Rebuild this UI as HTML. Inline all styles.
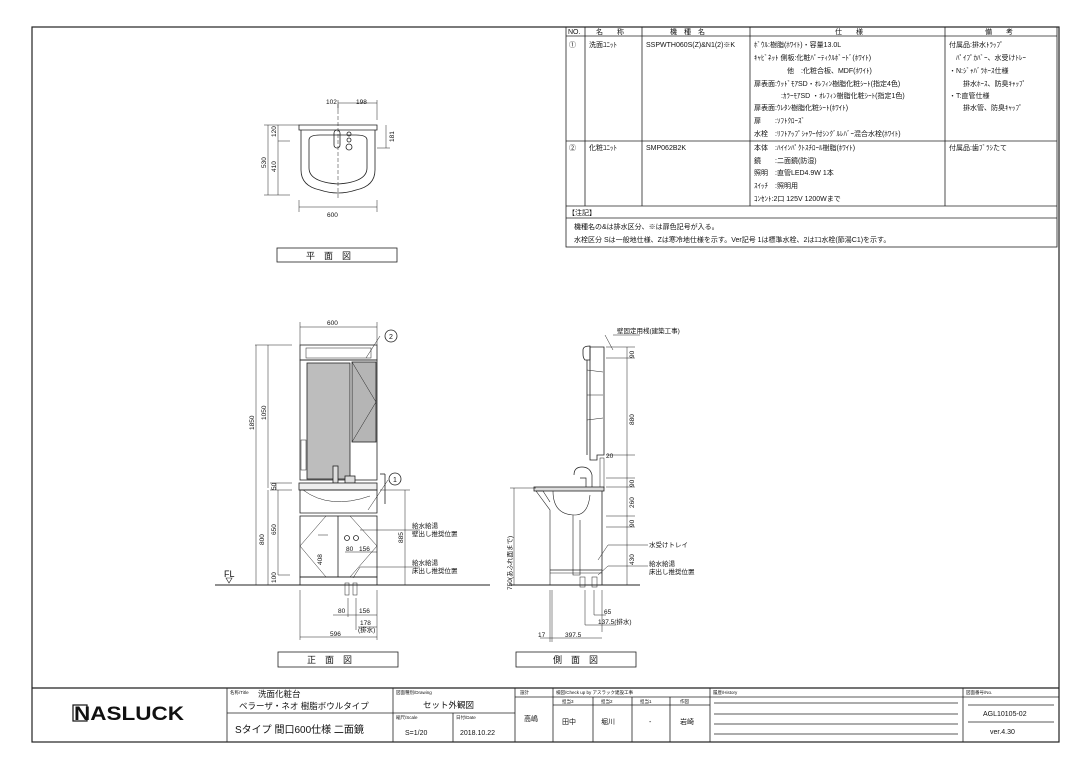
<!DOCTYPE html>
<html><head><meta charset="utf-8"><style>
html,body{margin:0;padding:0;background:#fff;}
svg{display:block;}
text{font-family:"Liberation Sans","Noto Sans CJK JP",sans-serif;fill:#111;}
.s{font-size:7px;}
.t{font-size:6.5px;}
.m{font-size:9px;}
.d{font-size:6.5px;}
</style></head><body>
<svg width="1080" height="764" viewBox="0 0 1080 764" xmlns="http://www.w3.org/2000/svg">
<g fill="none" stroke="#222" stroke-width="0.8">
<rect x="32" y="27" width="1027" height="715" stroke-width="1.2"/>
<rect x="566" y="27" width="491" height="220"/>
<line x1="566" y1="36" x2="1057" y2="36"/>
<line x1="566" y1="141" x2="1057" y2="141"/>
<line x1="566" y1="206" x2="1057" y2="206"/>
<line x1="566" y1="218" x2="1057" y2="218"/>
<line x1="585" y1="27" x2="585" y2="206"/>
<line x1="642" y1="27" x2="642" y2="206"/>
<line x1="750" y1="27" x2="750" y2="206"/>
<line x1="945" y1="27" x2="945" y2="206"/>
<line x1="32" y1="688" x2="1059" y2="688" stroke-width="1.2"/>
<line x1="227" y1="688" x2="227" y2="742"/>
<line x1="393" y1="688" x2="393" y2="742"/>
<line x1="515" y1="688" x2="515" y2="742"/>
<line x1="553" y1="688" x2="553" y2="742"/>
<line x1="710" y1="688" x2="710" y2="742"/>
<line x1="963" y1="688" x2="963" y2="742"/>
<line x1="227" y1="713" x2="393" y2="713"/>
<line x1="393" y1="713" x2="515" y2="713"/>
<line x1="453" y1="713" x2="453" y2="742"/>
<line x1="515" y1="697" x2="710" y2="697"/>
<line x1="553" y1="705" x2="710" y2="705"/>
<line x1="593" y1="697" x2="593" y2="742"/>
<line x1="632" y1="697" x2="632" y2="742"/>
<line x1="670" y1="697" x2="670" y2="742"/>
<line x1="710" y1="697" x2="963" y2="697"/>
<line x1="714" y1="703" x2="958" y2="703"/>
<line x1="714" y1="714" x2="958" y2="714"/>
<line x1="714" y1="724" x2="958" y2="724"/>
<line x1="714" y1="734" x2="958" y2="734"/>
<line x1="963" y1="697" x2="1059" y2="697"/>
<line x1="968" y1="705" x2="1054" y2="705"/>
<line x1="968" y1="722" x2="1054" y2="722"/>
<rect x="277" y="248" width="120" height="14"/>
<rect x="278" y="652" width="120" height="15"/>
<rect x="516" y="652" width="120" height="15"/>

<!-- PLAN VIEW -->
<path d="M299 125 H377 V130 H299 Z"/>
<path d="M301 130 V170 Q301 186 320 190 Q338 196 356 190 Q375 186 375 170 V130"/>
<path d="M309 140 Q309 135 320 135 H356 Q367 135 367 140 V168 Q367 182 338 184 Q309 182 309 168 Z"/>
<rect x="334" y="130" width="6" height="18" rx="3"/>
<circle cx="349" cy="134" r="2"/><circle cx="349" cy="140" r="2"/><circle cx="349" cy="147" r="3"/>
<line x1="338" y1="104" x2="338" y2="200" stroke-dasharray="4 2" stroke-width="0.5"/>
<line x1="299" y1="200" x2="299" y2="212" stroke-width="0.5"/>
<line x1="377" y1="200" x2="377" y2="212" stroke-width="0.5"/>
<line x1="299" y1="207" x2="377" y2="207" stroke-width="0.5"/>
<line x1="338" y1="103" x2="377" y2="103" stroke-width="0.5"/>
<line x1="377" y1="100" x2="377" y2="120" stroke-width="0.5"/>
<line x1="338" y1="100" x2="338" y2="110" stroke-width="0.5"/>
<line x1="268" y1="125" x2="268" y2="195" stroke-width="0.5"/>
<line x1="278" y1="125" x2="278" y2="195" stroke-width="0.5"/>
<line x1="264" y1="125" x2="299" y2="125" stroke-width="0.5"/>
<line x1="264" y1="195" x2="290" y2="195" stroke-width="0.5"/>
<line x1="278" y1="141" x2="290" y2="141" stroke-width="0.5"/>
<line x1="386" y1="125" x2="386" y2="148" stroke-width="0.5"/>
<line x1="377" y1="148" x2="390" y2="148" stroke-width="0.5"/>

<!-- FRONT VIEW -->
<line x1="215" y1="585" x2="490" y2="585" stroke-width="1"/>
<rect x="300" y="345" width="77" height="15" />
<rect x="306" y="348" width="65" height="10" stroke-width="0.5"/>
<rect x="300" y="360" width="77" height="120"/>
<rect x="307" y="363" width="43" height="116" fill="#bdbdbd"/>
<rect x="352" y="362" width="24" height="80" fill="#b5b5b5"/>
<path d="M352 362 L376 402 L352 442" stroke-width="0.5"/>
<rect x="301" y="440" width="5" height="30" stroke-width="0.5"/>
<rect x="333" y="466" width="5" height="17" fill="#ddd"/>
<rect x="345" y="476" width="10" height="7" fill="#ddd"/>
<rect x="299" y="483" width="78" height="7" fill="#eee"/>
<path d="M300 490 H377 V513 H300 Z"/>
<path d="M303 490 Q330 510 370 496" stroke-width="0.5"/>
<rect x="300" y="516" width="77" height="61"/>
<line x1="338" y1="516" x2="338" y2="577"/>
<path d="M300 546 L326 516 M300 546 L326 577 M377 546 L350 516 M377 546 L350 577" stroke-width="0.5"/>
<circle cx="347" cy="538" r="2.5"/><circle cx="356" cy="538" r="2.5"/>
<rect x="300" y="577" width="77" height="8"/>
<rect x="345" y="583" width="4" height="12" stroke-width="0.5"/><rect x="353" y="583" width="4" height="12" stroke-width="0.5"/>
<line x1="380" y1="474" x2="385" y2="474"/><line x1="385" y1="474" x2="385" y2="504"/>
<g stroke-width="0.5">
<line x1="300" y1="327" x2="377" y2="327"/><line x1="300" y1="322" x2="300" y2="345"/><line x1="377" y1="322" x2="377" y2="345"/>
<line x1="256" y1="345" x2="256" y2="585"/><line x1="268" y1="345" x2="268" y2="488"/>
<line x1="255" y1="345" x2="292" y2="345"/>
<line x1="276" y1="483" x2="276" y2="490"/><line x1="270" y1="483" x2="292" y2="483"/><line x1="270" y1="490" x2="292" y2="490"/>
<line x1="268" y1="490" x2="268" y2="585"/><line x1="278" y1="490" x2="278" y2="575"/>
<line x1="278" y1="575" x2="290" y2="575"/>
<line x1="405" y1="490" x2="405" y2="585"/><line x1="380" y1="490" x2="410" y2="490"/>
<line x1="300" y1="590" x2="300" y2="640"/><line x1="377" y1="590" x2="377" y2="640"/>
<line x1="300" y1="637" x2="377" y2="637"/>
<line x1="333" y1="615" x2="377" y2="615"/><line x1="358" y1="627" x2="377" y2="627"/>
<line x1="348" y1="598" x2="348" y2="617"/><line x1="356" y1="598" x2="356" y2="630"/>
<line x1="345" y1="552" x2="377" y2="552"/>
<line x1="380" y1="336" x2="366" y2="358"/>
<line x1="388" y1="480" x2="368" y2="510"/>
<line x1="420" y1="530" x2="360" y2="530"/><line x1="420" y1="567" x2="360" y2="567"/>
<line x1="360" y1="567" x2="353" y2="578"/>
<line x1="318" y1="535" x2="328" y2="535"/>
</g>
<circle cx="391" cy="336" r="6"/>
<circle cx="395" cy="479" r="6"/>
<path d="M226 578 L232 578 L229 583 Z" stroke-width="0.6"/>

<!-- SIDE VIEW -->
<line x1="510" y1="585" x2="640" y2="585" stroke-width="1"/>
<path d="M590 347 H604 V455 H597 V460 H590 Z"/>
<path d="M583 350 Q583 346 590 346 V360 H585 Q583 358 583 354 Z"/>
<line x1="587" y1="360" x2="587" y2="455"/>
<path d="M587 370 L603 372 M587 395 L603 395 M587 420 L603 418" stroke-width="0.5"/>
<rect x="600" y="458" width="4" height="30" stroke-width="0.5"/>
<path d="M574 475 Q574 467 582 467 Q590 467 592 475 L592 488 H586 V478 H580" stroke-width="0.7"/>
<rect x="534" y="487" width="70" height="4" fill="#ddd"/>
<path d="M536 491 L550 510 L550 585 M536 491 L543 491 L550 502" stroke-width="0.6"/>
<line x1="602" y1="491" x2="602" y2="585"/>
<path d="M553 491 Q553 515 575 515 Q588 515 590 495" stroke-width="0.6"/>
<path d="M573 515 V575 H580 V520" stroke-width="0.6"/>
<line x1="550" y1="570" x2="602" y2="570"/>
<line x1="550" y1="573" x2="602" y2="573" stroke-width="0.5"/>
<rect x="580" y="577" width="5" height="10" stroke-width="0.5"/><rect x="592" y="577" width="5" height="10" stroke-width="0.5"/>
<g stroke-width="0.5">
<line x1="627" y1="347" x2="627" y2="585"/>
<line x1="606" y1="347" x2="635" y2="347"/><line x1="606" y1="358" x2="635" y2="358"/>
<line x1="606" y1="455" x2="635" y2="455"/>
<line x1="606" y1="478" x2="635" y2="478"/><line x1="606" y1="487" x2="635" y2="487"/>
<line x1="606" y1="516" x2="635" y2="516"/><line x1="606" y1="527" x2="635" y2="527"/>
<line x1="514" y1="488" x2="514" y2="585"/><line x1="510" y1="488" x2="536" y2="488"/>
<line x1="605" y1="335" x2="613" y2="350"/><line x1="613" y1="335" x2="640" y2="335"/>
<line x1="598" y1="560" x2="608" y2="545"/><line x1="608" y1="545" x2="648" y2="545"/>
<line x1="598" y1="575" x2="608" y2="566"/><line x1="608" y1="566" x2="648" y2="566"/>
<line x1="550" y1="590" x2="550" y2="642"/><line x1="552" y1="590" x2="552" y2="642"/>
<line x1="602" y1="590" x2="602" y2="632"/><line x1="585" y1="590" x2="585" y2="625"/>
<line x1="594" y1="590" x2="594" y2="615"/>
<line x1="540" y1="638" x2="602" y2="638"/>
<line x1="585" y1="625" x2="615" y2="625"/><line x1="594" y1="615" x2="606" y2="615"/>
</g>
</g>

<g class="s">
<text x="568" y="34">NO.</text><text x="596" y="34">名　　称</text><text x="670" y="34">機　種　名</text><text x="835" y="34">仕　　様</text><text x="985" y="34">備　　考</text>
<text x="569" y="47">①</text><text x="589" y="47">洗面ﾕﾆｯﾄ</text><text x="646" y="47">SSPWTH060S(Z)&amp;N1(2)※K</text>
<text x="754" y="47">ﾎﾞｳﾙ:樹脂(ﾎﾜｲﾄ)・容量13.0L</text>
<text x="754" y="60">ｷｬﾋﾞﾈｯﾄ 側板:化粧ﾊﾟｰﾃｨｸﾙﾎﾞｰﾄﾞ(ﾎﾜｲﾄ)</text>
<text x="787" y="73">他　:化粧合板、MDF(ﾎﾜｲﾄ)</text>
<text x="754" y="86">扉表面:ｳｯﾄﾞﾓｱSD・ｵﾚﾌｨﾝ樹脂化粧ｼｰﾄ(指定4色)</text>
<text x="781" y="98">:ｶﾗｰﾓｱSD ・ｵﾚﾌｨﾝ樹脂化粧ｼｰﾄ(指定1色)</text>
<text x="754" y="110">扉表面:ｳﾚﾀﾝ樹脂化粧ｼｰﾄ(ﾎﾜｲﾄ)</text>
<text x="754" y="123">扉　　:ｿﾌﾄｸﾛｰｽﾞ</text>
<text x="754" y="136">水栓　:ﾘﾌﾄｱｯﾌﾟｼｬﾜｰ付ｼﾝｸﾞﾙﾚﾊﾞｰ混合水栓(ﾎﾜｲﾄ)</text>
<text x="949" y="47">付属品:排水ﾄﾗｯﾌﾟ</text>
<text x="956" y="60">ﾊﾟｲﾌﾟｶﾊﾞｰ、水受けﾄﾚｰ</text>
<text x="949" y="73">・N:ｼﾞｬﾊﾞﾗﾎｰｽ仕様</text>
<text x="963" y="86">排水ﾎｰｽ、防臭ｷｬｯﾌﾟ</text>
<text x="949" y="98">・T:直管仕様</text>
<text x="963" y="110">排水管、防臭ｷｬｯﾌﾟ</text>
<text x="569" y="150">②</text><text x="589" y="150">化粧ﾕﾆｯﾄ</text><text x="646" y="150">SMP062B2K</text>
<text x="754" y="150">本体　:ﾊｲｲﾝﾊﾟｸﾄｽﾁﾛｰﾙ樹脂(ﾎﾜｲﾄ)</text>
<text x="754" y="163">鏡　　:二面鏡(防湿)</text>
<text x="754" y="175">照明　:直管LED4.9W 1本</text>
<text x="754" y="188">ｽｲｯﾁ　:照明用</text>
<text x="754" y="201">ｺﾝｾﾝﾄ:2口 125V 1200Wまで</text>
<text x="949" y="150">付属品:歯ﾌﾞﾗｼたて</text>
<text x="568" y="215">【注記】</text>
<text x="574" y="229">機種名の&amp;は排水区分、※は扉色記号が入る。</text>
<text x="574" y="242">水栓区分 Sは一般地仕様、Zは寒冷地仕様を示す。Ver記号 1は標準水栓、2はｴｺ水栓(節湯C1)を示す。</text>
</g>

<g class="m">
<text x="306" y="259">平　面　図</text>
<text x="307" y="663">正　面　図</text>
<text x="553" y="663">側　面　図</text>
<text x="224" y="577">FL</text>
</g>
<g class="d">
<text x="327" y="325">600</text>
<text x="389" y="339" font-size="7">2</text><text x="393" y="482" font-size="7">1</text>
<text transform="translate(254,430) rotate(-90)">1850</text>
<text transform="translate(266,420) rotate(-90)">1050</text>
<text transform="translate(276,490) rotate(-90)">50</text>
<text transform="translate(264,545) rotate(-90)">800</text>
<text transform="translate(276,535) rotate(-90)">650</text>
<text transform="translate(276,583) rotate(-90)">100</text>
<text transform="translate(403,543) rotate(-90)">885</text>
<text transform="translate(322,565) rotate(-90)">408</text>
<text x="346" y="551">80</text><text x="359" y="551">156</text>
<text x="412" y="528">給水給湯</text><text x="412" y="536">壁出し推奨位置</text>
<text x="412" y="565">給水給湯</text><text x="412" y="573">床出し推奨位置</text>
<text x="338" y="613">80</text><text x="359" y="613">156</text>
<text x="360" y="625">178</text><text x="358" y="632">(排水)</text>
<text x="330" y="636">596</text>
<text x="326" y="104">102</text><text x="356" y="104">198</text>
<text x="327" y="217">600</text>
<text transform="translate(266,168) rotate(-90)">530</text>
<text transform="translate(276,137) rotate(-90)">120</text>
<text transform="translate(276,172) rotate(-90)">410</text>
<text transform="translate(394,142) rotate(-90)">181</text>
<text x="617" y="333">壁固定用桟(建築工事)</text>
<text transform="translate(634,358) rotate(-90)">90</text>
<text transform="translate(634,425) rotate(-90)">880</text>
<text x="606" y="458">20</text>
<text transform="translate(634,487) rotate(-90)">90</text>
<text transform="translate(634,508) rotate(-90)">260</text>
<text transform="translate(634,527) rotate(-90)">90</text>
<text transform="translate(634,565) rotate(-90)">430</text>
<text x="649" y="547">水受けトレイ</text>
<text x="649" y="566">給水給湯</text><text x="649" y="574">床出し推奨位置</text>
<text transform="translate(512,590) rotate(-90)">750(あふれ面まで)</text>
<text x="604" y="614">65</text>
<text x="598" y="624">137.5(排水)</text>
<text x="538" y="637">17</text><text x="565" y="637">397.5</text>
</g>

<rect x="73" y="705" width="14" height="16" fill="none" stroke="#111" stroke-width="1.2"/>
<text x="74" y="720" font-size="19" font-weight="bold" textLength="110" lengthAdjust="spacingAndGlyphs" style="font-family:'Liberation Sans',sans-serif;fill:#111;">NASLUCK</text>
<g font-size="4.5">
<text x="230" y="694" font-size="4.5">名称/Title</text>
<text x="396" y="694" font-size="4.5">図面種別/Drawing</text>
<text x="396" y="719" font-size="4.5">縮尺/Scale</text><text x="456" y="719" font-size="4.5">日付/Date</text>
<text x="520" y="694" font-size="4.5">設計</text>
<text x="556" y="694" font-size="4.5">検図/Check up by アスラック建設工事</text>
<text x="713" y="694" font-size="4.5">履歴/History</text>
<text x="966" y="694" font-size="4.5">図面番号/No.</text>
<text x="562" y="703" font-size="4.5">担当3</text><text x="601" y="703" font-size="4.5">担当2</text><text x="640" y="703" font-size="4.5">担当1</text><text x="680" y="703" font-size="4.5">作図</text>
</g>
<g font-size="8.5">
<text x="258" y="697">洗面化粧台</text>
<text x="239" y="709">ベラーザ・ネオ 樹脂ボウルタイプ</text>
<text x="235" y="733" font-size="10">Sタイプ 間口600仕様 二面鏡</text>
<text x="423" y="708">セット外観図</text>
<text x="405" y="735" font-size="7">S=1/20</text>
<text x="460" y="735" font-size="7">2018.10.22</text>
<text x="524" y="721" font-size="7">高嶋</text>
<text x="562" y="724" font-size="7">田中</text><text x="601" y="724" font-size="7">堀川</text><text x="649" y="724" font-size="7">-</text><text x="680" y="724" font-size="7">岩崎</text>
<text x="983" y="716" font-size="7">AGL10105-02</text>
<text x="990" y="734" font-size="7">ver.4.30</text>
</g>
</svg>
</body></html>
